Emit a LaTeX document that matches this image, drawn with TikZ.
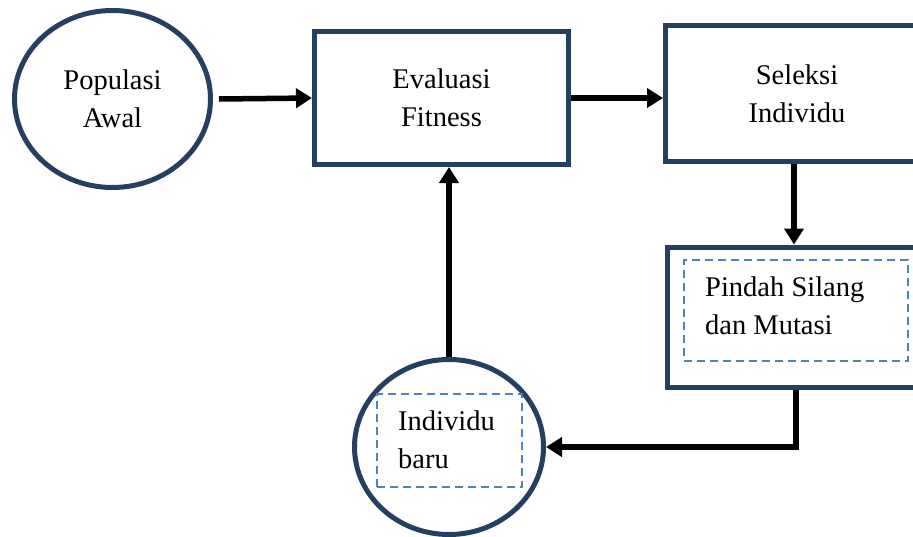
\documentclass[tikz,border=0pt]{standalone}
\usepackage{fontspec}
\setmainfont{Liberation Serif}
\usetikzlibrary{arrows.meta,shapes.geometric}
\definecolor{navy}{HTML}{243F60}
\definecolor{dashblue}{HTML}{4F81BD}
\tikzset{
  txt/.style={font=\fontsize{28.5}{38}\selectfont, text=black},
  oval/.style={ellipse, draw=navy, line width=5pt, inner sep=0pt, txt, align=center},
  box/.style={rectangle, draw=navy, line width=5pt, inner sep=0pt, txt, align=center},
  dbox/.style={rectangle, draw=dashblue, line width=2.5pt, dash pattern=on 8pt off 5pt, inner sep=0pt},
  flow/.style={line width=5.5pt, -{Triangle[length=16pt,width=19pt]}},
}
\begin{document}
\begin{tikzpicture}[x=1pt,y=-1pt]
\useasboundingbox (0,0) rectangle (913,536);
\node[oval, minimum width=196pt, minimum height=177pt] (pop) at (112.5,99) {Populasi\\Awal};
\node[box, minimum width=254pt, minimum height=133pt] (eval) at (441.5,98) {Evaluasi\\Fitness};
\node[box, minimum width=263pt, minimum height=136pt] (sel) at (797,93.5) {Seleksi\\Individu};
\node[box, minimum width=257pt, minimum height=140pt] (pin) at (796,317) {};
\node[dbox, minimum width=224pt, minimum height=101pt] (pind) at (796,310.5) {};
\node[txt, align=left, anchor=west, inner sep=0pt] (pint) at (705,306) {Pindah Silang\\dan Mutasi};
\node[oval, minimum width=189pt, minimum height=175pt] (baru) at (449,447) {};
\node[dbox, minimum width=145pt, minimum height=93pt] (barud) at (449.5,440.5) {};
\node[txt, align=left, anchor=west, inner sep=0pt] (barut) at (398,440) {Individu\\baru};
\draw[flow] ([xshift=6pt]pop.east) -- (eval.west);
\draw[flow] (eval.east) -- (sel.west |- eval.east);
\draw[flow] ([xshift=-3pt]sel.south) -- ([xshift=-3pt]sel.south |- pin.north);
\draw[flow] (pin.south) |- (baru.east);
\draw[flow] (baru.north) -- (baru.north |- eval.south);
\end{tikzpicture}
\end{document}
